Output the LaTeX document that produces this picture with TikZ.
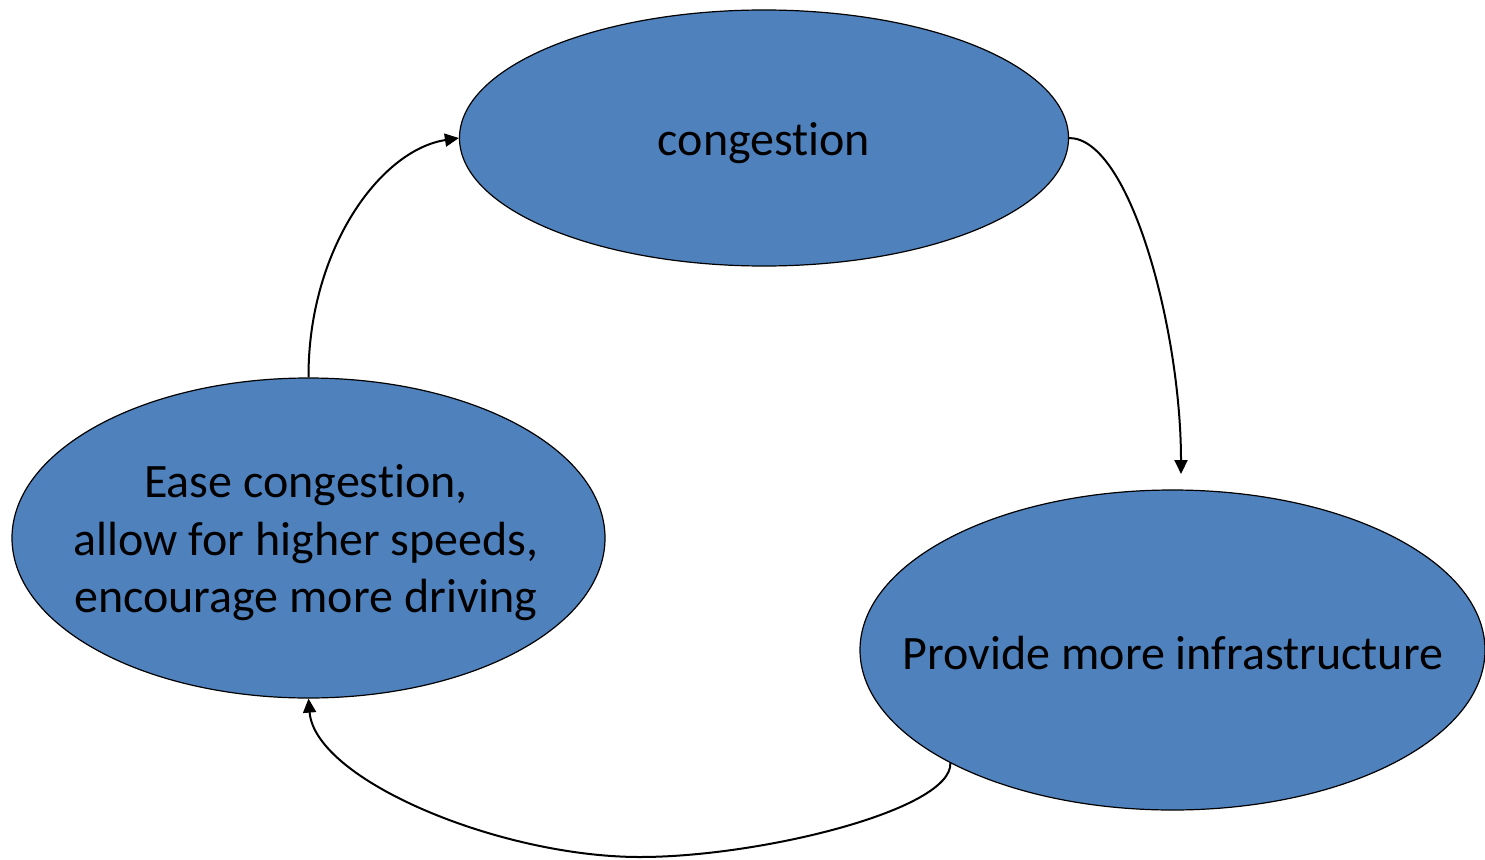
\documentclass[tikz,border=0pt]{standalone}
\usepackage{fontspec}
\setmainfont[Ligatures=NoCommon]{Carlito}
\usetikzlibrary{shapes.geometric,arrows.meta}
\definecolor{officeblue}{HTML}{4F81BD}
\tikzset{
  bubble/.style={ellipse, draw=black, line width=1.2pt, fill=officeblue, inner sep=0pt},
  caption/.style={align=center, inner sep=0pt, font=\fontsize{48}{57.5}\selectfont},
  link/.style={draw=black, line width=2pt, -{Triangle[length=14pt,width=13pt]}}
}
\begin{document}
\begin{tikzpicture}[x=1pt,y=-1pt]
\useasboundingbox (0,0) rectangle (1485,859);
\node[bubble, minimum width=609pt, minimum height=256pt] (c) at (764,138) {};
\node[bubble, minimum width=593pt, minimum height=320pt] (e) at (308.5,538) {};
\node[bubble, minimum width=625pt, minimum height=320pt] (p) at (1172.5,650) {};
\node[caption] (ct) at (764,143) {congestion};
\node[caption] (et) at (306,543) {Ease congestion,\\allow for higher speeds,\\encourage more driving};
\node[caption] (pt) at (1173,653) {Provide more infrastructure};
\coordinate (t1) at (1181,474);
\coordinate (m2) at (640,857);
\draw[link] (c.east) .. controls (1130,138) and (1181,330) .. (t1);
\draw[link] (p.207) .. controls (952,810) and (760,857) .. (m2) .. controls (500,857) and (315,780) .. (e.south);
\draw[link] (e.north) .. controls (308,250) and (380,150) .. (c.west);
\end{tikzpicture}
\end{document}
